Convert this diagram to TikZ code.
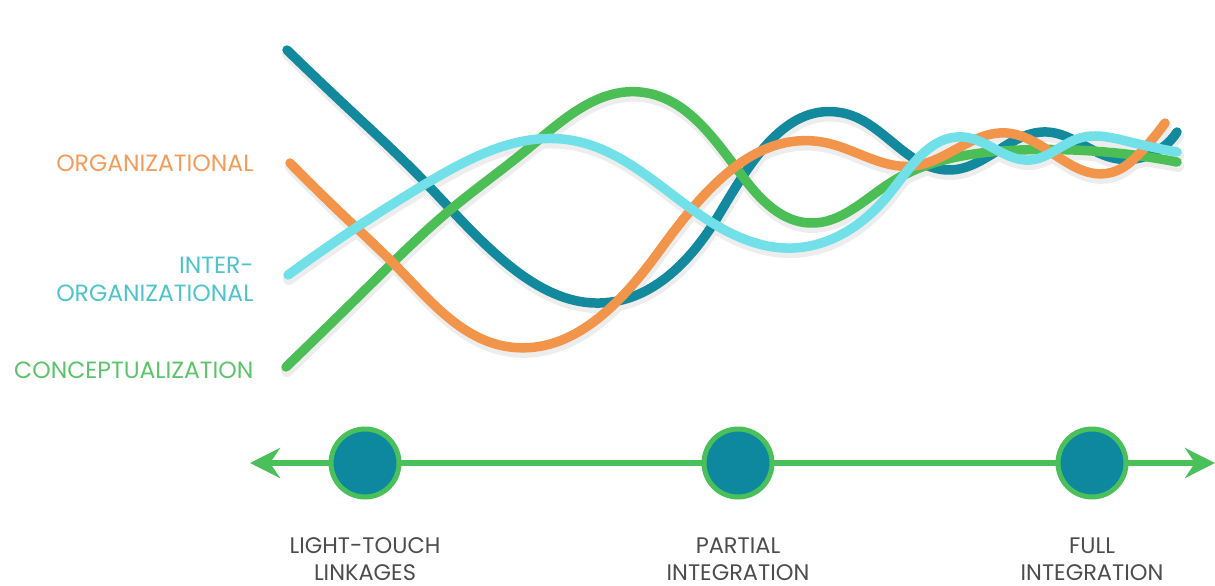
\documentclass[tikz,border=0pt]{standalone}
\usepackage{fontspec}
\setmainfont{Poppins}
\usetikzlibrary{arrows.meta,hobby}
\definecolor{cteal}{HTML}{13899E}
\definecolor{corange}{HTML}{F2954B}
\definecolor{cgreen}{HTML}{4BBE56}
\definecolor{ccyan}{HTML}{72E0E8}
\definecolor{lorange}{HTML}{F39C5A}
\definecolor{lcyan}{HTML}{4FC3CC}
\definecolor{lgreen}{HTML}{5BC46A}
\definecolor{lgray}{HTML}{4D4D4D}
\definecolor{axisgreen}{HTML}{49C05A}
\definecolor{dotfill}{HTML}{0E889F}
\tikzset{
  strand/.style={line width=9.5pt, line cap=round, line join=round, use Hobby shortcut},
  shade/.style={line width=12pt, line cap=round, line join=round, use Hobby shortcut, black!7, shift={(1pt,-4pt)}},
  sidelabel/.style={anchor=east, align=right, font=\fontsize{23.5}{28}\selectfont},
  stagelabel/.style={anchor=north, align=center, text=lgray, font=\fontsize{22.5}{27}\selectfont},
  stagedot/.style={circle, draw=axisgreen, line width=5pt, fill=dotfill, minimum size=68pt, inner sep=0pt},
}
\newcommand{\tealpath}{(287,50) .. (350,110) .. (420,177) .. (505,262) .. (600,303) .. (720,213) .. (843,113) .. (950,170) .. (1047,132) .. (1113,158) .. (1177,132)}
\newcommand{\greenpath}{(286,367) .. (370,285) .. (450,210) .. (530,147) .. (640,92) .. (743,177) .. (810,223) .. (890,183) .. (1020,150) .. (1177,162)}
\newcommand{\orangepath}{(290,163) .. (345,217) .. (400,270) .. (510,347) .. (660,250) .. (822,142) .. (913,166) .. (1007,133) .. (1113,172) .. (1140,153) .. (1165,123)}
\newcommand{\cyanpath}{(288,275) .. (427,183) .. (570,140) .. (693,210) .. (793,248) .. (890,193) .. (963,137) .. (1030,160) .. (1080,138) .. (1130,142) .. (1177,152)}
\begin{document}
\begin{tikzpicture}[x=1pt,y=-1pt]
\useasboundingbox (0,0) rectangle (1215,586);
% shadows
\draw[shade] \tealpath;
\draw[shade] \greenpath;
\draw[shade] \orangepath;
\draw[shade] \cyanpath;
% strands
\draw[strand, cteal] \tealpath;
\draw[strand, cgreen] \greenpath;
\draw[strand, corange] \orangepath;
\draw[strand, ccyan] \cyanpath;
% side labels
\node[sidelabel, text=lorange] (org) at (257,163) {ORGANIZATIONAL};
\node[sidelabel, text=lcyan] (inter) at (257,279) {INTER-\\ORGANIZATIONAL};
\node[sidelabel, text=lgreen] (concept) at (257,370) {CONCEPTUALIZATION};
% axis
\coordinate (axl) at (250,463);
\coordinate (axr) at (1215,463);
\draw[axisgreen, line width=6pt, {Stealth[length=30pt,width=30pt,inset=10pt]}-{Stealth[length=30pt,width=30pt,inset=10pt]}] (axl) -- (axr);
\node[stagedot] (s1) at (365,463) {};
\node[stagedot] (s2) at (738,463) {};
\node[stagedot] (s3) at (1092,463) {};
\node[stagelabel] (l1) at (365,534) {LIGHT-TOUCH\\LINKAGES};
\node[stagelabel] (l2) at (738,534) {PARTIAL\\INTEGRATION};
\node[stagelabel] (l3) at (1092,534) {FULL\\INTEGRATION};
\end{tikzpicture}
\end{document}
